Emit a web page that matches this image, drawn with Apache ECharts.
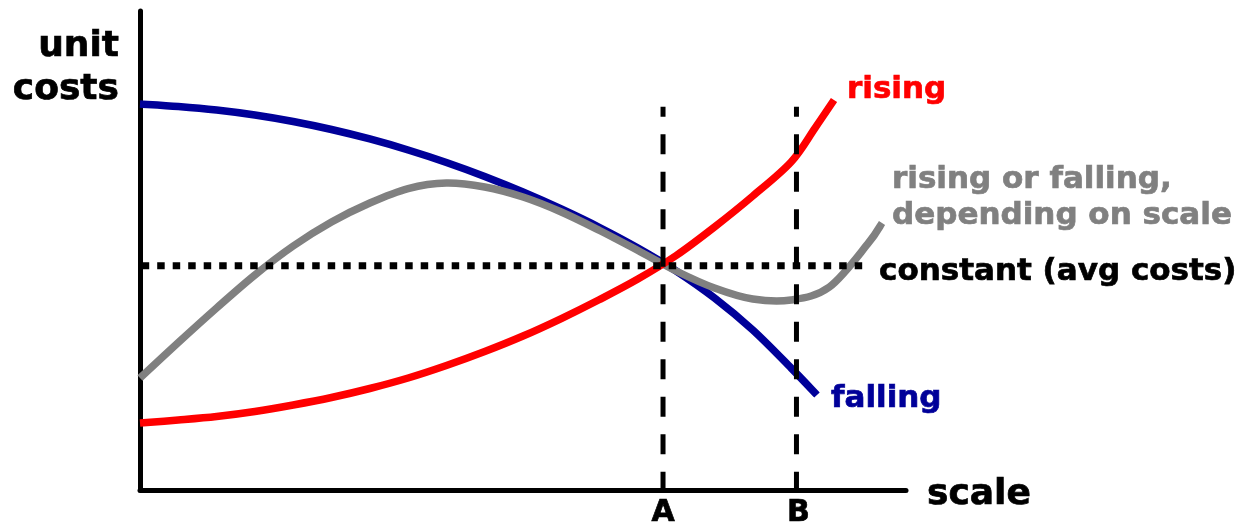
<!DOCTYPE html>
<html>
<head>
<meta charset="utf-8">
<script src="https://cdn.jsdelivr.net/npm/echarts@6/dist/echarts.min.js"></script>
<style>
  html, body { margin: 0; padding: 0; background: #ffffff; }
  #chart { width: 1253px; height: 523px; }
</style>
</head>
<body>
<div id="chart"></div>
<script>
// ---- data (x: scale 0..100, y: unit costs 0..100) ----
const fallingPoints = [
  [0, 80.58], [5, 80.06], [10, 79.33], [15, 78.29], [20, 76.93], [25, 75.26],
  [30, 73.28], [35, 70.98], [40, 68.37], [45, 65.45], [50, 62.21], [55, 58.66],
  [60, 54.8], [65, 50.52], [70, 45.72], [75, 40.08], [80, 33.4], [85, 25.47],
  [88.38, 19.83]
];
const risingPoints = [
  [0, 13.99], [5, 14.61], [10, 15.34], [15, 16.39], [20, 17.75], [25, 19.31],
  [30, 21.19], [35, 23.38], [40, 25.99], [45, 28.91], [50, 32.15], [55, 35.8],
  [60, 39.77], [65, 44.05], [70, 48.96], [75, 54.91], [80, 61.38], [85, 68.48],
  [88.12, 75.57], [90.6, 81.42]
];
const mixedPoints = [
  [0, 23.38], [5, 30.79], [10, 38.0], [15, 44.89], [20, 50.94], [25, 55.95],
  [30, 59.92], [35, 62.94], [40, 64.09], [45, 63.26], [50, 61.17], [55, 58.04],
  [60, 54.18], [65, 50.0], [70, 45.72], [75, 42.17], [80, 39.87], [85, 39.67],
  [90, 42.38], [95, 51.36], [96.87, 55.74]
];
const constantLevel = 46.8;
const constantEnd = 95;
const markerNames = ['A', 'B'];
const markerX = [68.28, 85.7];
const markerTop = 80;
const axisNames = ['unit', 'costs', 'scale'];
const curveNames = ['rising', 'falling', 'rising or falling,', 'depending on scale', 'constant (avg costs)'];

// ---- styles ----
const FONT = 'DejaVu Sans';
const BLUE = '#000099', RED = '#ff0000', GRAY = '#808080', BLACK = '#000000';

const chart = echarts.init(document.getElementById('chart'), null, { renderer: 'canvas' });

function txt(text, x, y, size, color, align) {
  return {
    type: 'text', x: x, y: y, z: 100,
    style: {
      text: text, fill: color, font: 'bold ' + size + 'px "' + FONT + '"',
      stroke: color, lineWidth: 0.7,
      align: align || 'left', verticalAlign: 'middle'
    }
  };
}

// smooth curve through the data points (Catmull-Rom), positioned by the axes via api.coord
function curveSeries(name, points, color, z) {
  return {
    name: name, type: 'custom', coordinateSystem: 'cartesian2d', silent: true, animation: false, z: z,
    data: [points[0]],
    encode: { x: 0, y: 1 },
    renderItem: function (params, api) {
      const p = points.map(d => api.coord(d));
      let d = 'M' + p[0][0] + ' ' + p[0][1];
      for (let i = 0; i < p.length - 1; i++) {
        const p0 = p[Math.max(i - 1, 0)], p1 = p[i], p2 = p[i + 1], p3 = p[Math.min(i + 2, p.length - 1)];
        const c1 = [p1[0] + (p2[0] - p0[0]) / 6, p1[1] + (p2[1] - p0[1]) / 6];
        const c2 = [p2[0] - (p3[0] - p1[0]) / 6, p2[1] - (p3[1] - p1[1]) / 6];
        d += ' C' + c1[0] + ' ' + c1[1] + ' ' + c2[0] + ' ' + c2[1] + ' ' + p2[0] + ' ' + p2[1];
      }
      return {
        type: 'path',
        shape: { pathData: d },
        style: { fill: null, stroke: color, lineWidth: 7.5, lineCap: 'butt', lineJoin: 'round' }
      };
    }
  };
}

const series = [
  curveSeries('falling', fallingPoints, BLUE, 2),
  curveSeries('mixed', mixedPoints, GRAY, 3),
  curveSeries('rising', risingPoints, RED, 4)
];

series.push({
  type: 'line', data: [[0, constantLevel], [constantEnd, constantLevel]], symbol: 'none',
  lineStyle: { width: 7, color: BLACK, type: [7.5, 8], dashOffset: 13.8 }, silent: true, animation: false, z: 5
});
markerX.forEach(mx => {
  series.push({
    type: 'line', data: [[mx, markerTop], [mx, 0]], symbol: 'none',
    lineStyle: { width: 5, color: BLACK, type: [20, 17.5], dashOffset: 10 }, silent: true, animation: false, z: 6
  });
});

const gridLeft = 140, gridTop = 11, gridRight = 347, gridBottom = 33;
const plotW = 1253 - gridLeft - gridRight;
const xPix = v => gridLeft + v / 100 * plotW;

chart.setOption({
  animation: false,
  backgroundColor: '#ffffff',
  grid: { left: gridLeft, top: gridTop, right: gridRight, bottom: gridBottom, containLabel: false },
  xAxis: {
    type: 'value', min: 0, max: 100,
    axisLine: { show: true, onZero: false, lineStyle: { color: BLACK, width: 5 } },
    axisTick: { show: false }, axisLabel: { show: false }, splitLine: { show: false }
  },
  yAxis: {
    type: 'value', min: 0, max: 100,
    axisLine: { show: true, onZero: false, lineStyle: { color: BLACK, width: 5 } },
    axisTick: { show: false }, axisLabel: { show: false }, splitLine: { show: false }
  },
  series: series,
  graphic: [
    txt(axisNames[0], 119, 46.5, 36, BLACK, 'right'),
    txt(axisNames[1], 119, 89.5, 36, BLACK, 'right'),
    txt(axisNames[2], 927, 494.5, 36, BLACK, 'left'),
    txt(markerNames[0], xPix(markerX[0]), 513, 30, BLACK, 'center'),
    txt(markerNames[1], xPix(markerX[1]) + 2, 513, 30, BLACK, 'center'),
    txt(curveNames[0], 847, 90.3, 31, RED),
    txt(curveNames[1], 831, 399.3, 31, BLUE),
    txt(curveNames[2], 892, 180.3, 31, GRAY),
    txt(curveNames[3], 892, 216.3, 31, GRAY),
    txt(curveNames[4], 879, 272.3, 31, BLACK)
  ]
});
</script>
</body>
</html>
